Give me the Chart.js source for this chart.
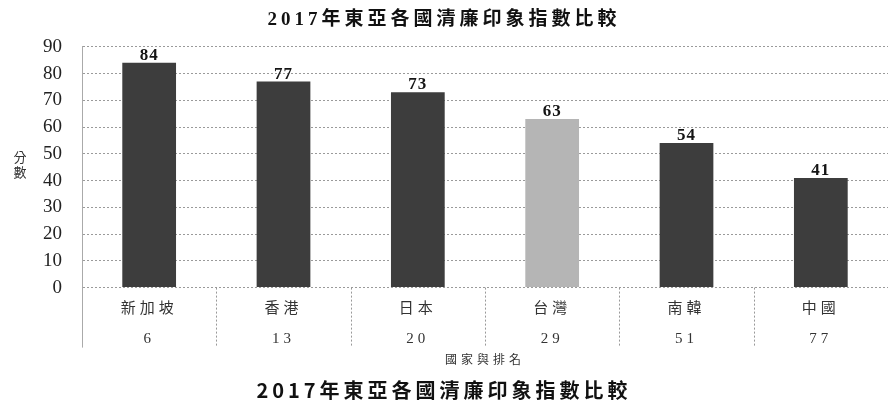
<!DOCTYPE html>
<html>
<head>
<meta charset="utf-8">
<script src="https://cdn.jsdelivr.net/npm/chart.js@4/dist/chart.umd.min.js"></script>
<style>
  html, body { margin: 0; padding: 0; background: #fff; }
  #wrap { width: 888px; height: 407px; }
</style>
</head>
<body>
<div id="wrap"><canvas id="chart"></canvas></div>
<script>
const countries = ["新加坡", "香港", "日本", "台灣", "南韓", "中國"];
const ranks = ["6", "13", "20", "29", "51", "77"];
const scores = [84, 77, 73, 63, 54, 41];
const highlight = "台灣";

const SERIF = '"Liberation Serif", "Noto Sans CJK TC", serif';
const SANS = '"Noto Sans CJK TC", sans-serif';

// loose letter spacing for the titles and x labels (drawn before the bars);
// y tick labels sit on a higher layer and keep normal spacing
const spacing = {
  id: "spacing",
  beforeDraw(chart) { chart.ctx.letterSpacing = "4px"; },
  beforeDatasetsDraw(chart) { chart.ctx.letterSpacing = "0px"; }
};

// score printed above each bar
const valueLabels = {
  id: "valueLabels",
  afterDatasetsDraw(chart) {
    const { ctx } = chart;
    const meta = chart.getDatasetMeta(0);
    ctx.save();
    ctx.letterSpacing = "1px";
    ctx.font = "bold 17px " + SERIF;
    ctx.fillStyle = "#151515";
    ctx.textAlign = "center";
    ctx.textBaseline = "alphabetic";
    meta.data.forEach((bar, i) => ctx.fillText(String(scores[i]), bar.x, bar.y - 3));
    ctx.restore();
  }
};

// dotted dividers between the category cells under the axis, plus the stacked y title
const extras = {
  id: "extras",
  afterDraw(chart) {
    const { ctx, chartArea } = chart;
    const x = chart.scales.x;
    const half = (x.getPixelForValue(1) - x.getPixelForValue(0)) / 2;
    const bottom = chartArea.bottom + 60;
    ctx.save();
    ctx.strokeStyle = "#999";
    ctx.lineWidth = 1;
    ctx.setLineDash([2, 2]);
    for (let i = 1; i < countries.length; i++) {
      const px = Math.round(x.getPixelForValue(i) - half) + 0.5;
      ctx.beginPath();
      ctx.moveTo(px, chartArea.bottom);
      ctx.lineTo(px, bottom);
      ctx.stroke();
    }
    ctx.setLineDash([]);
    ctx.strokeStyle = "#aaa";
    ctx.beginPath();
    ctx.moveTo(Math.round(chartArea.left) + 0.5, chartArea.bottom);
    ctx.lineTo(Math.round(chartArea.left) + 0.5, bottom);
    ctx.stroke();

    ctx.font = "13px " + SANS;
    ctx.fillStyle = "#333";
    ctx.textAlign = "center";
    ctx.textBaseline = "middle";
    const mid = (chartArea.top + chartArea.bottom) / 2;
    ctx.fillText("分", 20, mid - 10);
    ctx.fillText("數", 20, mid + 5);
    ctx.restore();
  }
};

new Chart(document.getElementById("chart"), {
  type: "bar",
  data: {
    labels: countries.map((c, i) => [c, ranks[i]]),
    datasets: [{
      data: scores,
      backgroundColor: countries.map(c => c === highlight ? "#b5b5b5" : "#3d3d3d"),
      borderWidth: 0,
      categoryPercentage: 1,
      barPercentage: 0.4
    }]
  },
  options: {
    responsive: true,
    maintainAspectRatio: false,
    animation: false,
    layout: { padding: 0 },
    plugins: {
      legend: { display: false },
      tooltip: { enabled: false },
      title: {
        display: true,
        text: "2017年東亞各國清廉印象指數比較",
        color: "#111",
        font: { family: SERIF, size: 19, weight: "bold", lineHeight: 1.2 },
        padding: { top: 9, bottom: 15 }
      },
      subtitle: {
        display: true,
        position: "bottom",
        text: "2017年東亞各國清廉印象指數比較",
        color: "#111",
        font: { family: SANS, size: 20, weight: "bold", lineHeight: 1.2 },
        padding: { top: 11, bottom: 5 }
      }
    },
    scales: {
      x: {
        grid: { display: false, drawTicks: false },
        border: { display: false },
        ticks: {
          color: "#333",
          padding: 6,
          maxRotation: 0,
          font: { family: SERIF, size: 15, lineHeight: 30 / 15 }
        },
        title: {
          display: true,
          text: "國家與排名",
          color: "#333",
          font: { family: SANS, size: 12, lineHeight: 1.2 },
          padding: { top: -7, bottom: 0 }
        }
      },
      y: {
        min: 0,
        max: 90,
        afterFit(scale) { scale.width = 82; },
        ticks: {
          z: 1,
          stepSize: 10,
          autoSkip: false,
          color: "#222",
          padding: 20,
          font: { family: SERIF, size: 19 }
        },
        grid: {
          drawTicks: false,
          color: "#9a9a9a",
          lineWidth: 1
        },
        border: { display: true, color: "#aaa", width: 1, dash: [2, 2] }
      }
    }
  },
  plugins: [spacing, valueLabels, extras]
});
</script>
</body>
</html>
